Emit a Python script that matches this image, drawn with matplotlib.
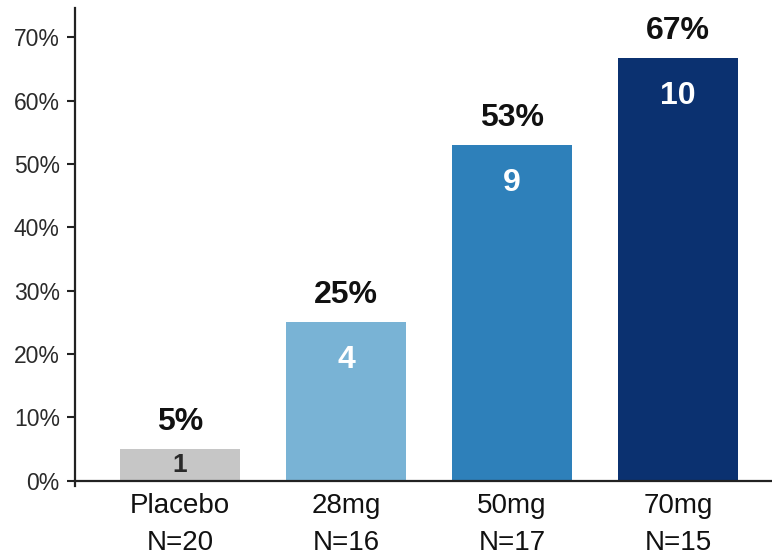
import matplotlib

matplotlib.use("Agg")
import matplotlib.pyplot as plt  # noqa: E402

plt.rcParams["font.family"] = ["Liberation Sans", "DejaVu Sans"]

# responder rate by dose group
groups = ["Placebo", "28mg", "50mg", "70mg"]
n_total = [20, 16, 17, 15]
n_resp = [1, 4, 9, 10]
pct_labels = ["5%", "25%", "53%", "67%"]
bar_colors = ["#c6c6c6", "#79b3d5", "#2e80ba", "#0b3170"]
count_colors = ["#2a2a2a", "white", "white", "white"]

rates = [100 * r / n for r, n in zip(n_resp, n_total)]
x = list(range(len(groups)))

fig = plt.figure(figsize=(7.72, 5.56), dpi=100)
ax = fig.add_axes([0.0972, 0.126, 0.9028, 0.8596])

ax.bar(x, rates, width=0.72, color=bar_colors, zorder=2)

for xi, rate, pct, cnt, cc in zip(x, rates, pct_labels, n_resp, count_colors):
    ax.annotate(pct, (xi, rate), xytext=(0, 9), textcoords="offset points",
                ha="center", va="bottom", fontsize=23, fontweight="bold",
                color="#111111")
    if rate > 15:
        ax.annotate(str(cnt), (xi, rate), xytext=(0, -27),
                    textcoords="offset points", ha="center", va="center",
                    fontsize=23, fontweight="bold", color=cc)
    else:
        ax.text(xi, rate / 2, str(cnt), ha="center", va="center",
                fontsize=19, fontweight="bold", color=cc)

# two-line category labels under the axis
for xi, g, n in zip(x, groups, n_total):
    ax.annotate(g, (xi, 0), xytext=(0, -18), textcoords="offset points",
                ha="center", va="center", fontsize=20, color="#111111",
                annotation_clip=False)
    ax.annotate(f"N={n}", (xi, 0), xytext=(0, -44.5),
                textcoords="offset points", ha="center", va="center",
                fontsize=20, color="#111111", annotation_clip=False)

ax.set_xlim(-0.6325, 3.566)
ax.set_ylim(-0.8, 74.6)
ax.set_yticks(range(0, 71, 10))
ax.set_yticklabels([f"{v}%" for v in range(0, 71, 10)], color="#2a2a2a")
ax.set_xticks([])
ax.tick_params(axis="y", length=6, width=1.5, direction="out", pad=5,
               color="#222222", labelsize=16.5)

for side in ("top", "right"):
    ax.spines[side].set_visible(False)
ax.spines["bottom"].set_position(("data", 0))
for side in ("left", "bottom"):
    ax.spines[side].set_linewidth(1.6)
    ax.spines[side].set_color("#222222")

fig.savefig("out.png", dpi=100)
